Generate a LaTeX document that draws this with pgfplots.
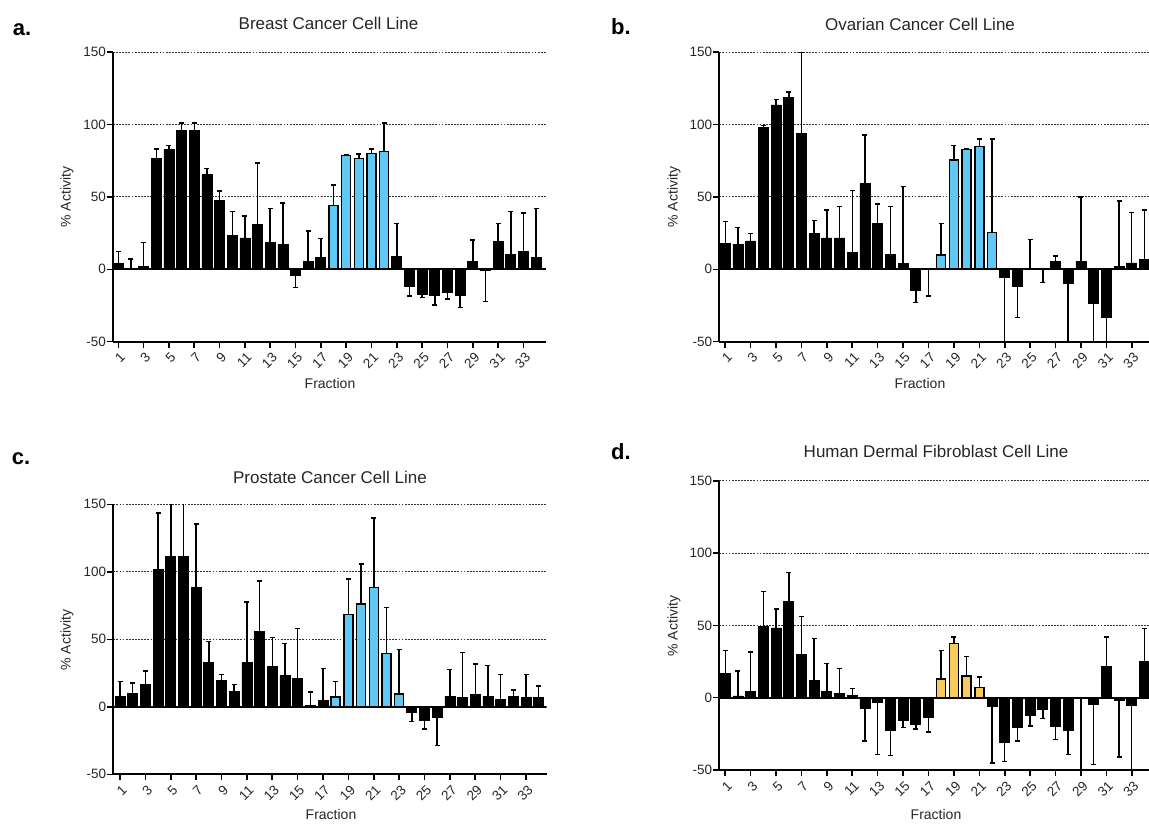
\documentclass[border=0pt]{standalone}
\usepackage{fontspec}
\setmainfont{Liberation Sans}
\usepackage{pgfplots}
\pgfplotsset{compat=1.18}
\definecolor{barblue}{RGB}{95,200,245}
\definecolor{baryel}{RGB}{247,202,92}
\definecolor{gridgray}{RGB}{50,50,50}
\pgfplotsset{
  panel/.style={
    scale only axis, anchor=south west,
    ymin=-50, ymax=150,
    ytick={-50,0,50,100,150},
    xtick={1,3,...,33},
    axis x line*=bottom, axis y line*=left,
    axis line style={line width=2pt, black},
    tick align=outside, major tick length=6pt,
    every tick/.style={line width=1.6pt, black},
    ymajorgrids,
    grid style={dash pattern=on 1.8pt off 1.3pt, line width=1pt, gridgray},
    /pgf/number format/assume math mode=true,
    yticklabel style={font=\fontsize{13.5}{13.5}\selectfont, inner sep=1pt, text=black!85},
    xticklabel style={font=\fontsize{13.5}{13.5}\selectfont, yshift=-4pt, xshift=1pt, rotate=45, anchor=north east, inner sep=0pt, text=black!85},
  },
  errstyle/.style={
    /pgfplots/error bars/y explicit,
    /pgfplots/error bars/y dir=#1,
    /pgfplots/error bars/error bar style={line width=1.5pt, black, solid},
    /pgfplots/error bars/error mark options={rotate=90, line width=1.5pt, black, mark size=2.5pt},
  },
  blackbar/.style={ybar, bar width=10pt, bar shift=0pt, fill=black, draw=black, line width=0.8pt, errstyle=#1},
  colbar/.style={ybar, bar width=9pt, bar shift=0pt, fill=#1, draw=black, line width=1.5pt, errstyle=plus},
}
\newcommand{\zeroline}{\draw[line width=2pt, black] ({rel axis cs:0,0} |- {axis cs:1,0}) -- ({rel axis cs:1,0} |- {axis cs:1,0});}
\begin{document}
\begin{tikzpicture}[x=1pt,y=1pt]
\useasboundingbox (0,0) rectangle (1149,823);
% ---------------- a ----------------
\begin{axis}[panel, at={(113pt,481.3pt)}, width=433pt, height=289.4pt, xmin=0.58, xmax=34.78]
\addplot[blackbar=plus] coordinates {
 (1,4.1) +- (0,8.3) (2,0.5) +- (0,6.6) (3,1.8) +- (0,16.9) (4,76.7) +- (0,6.3)
 (5,82.7) +- (0,3.0) (6,96.1) +- (0,4.9) (7,96.1) +- (0,4.9) (8,65.4) +- (0,4.2)
 (9,47.9) +- (0,6.2) (10,23.7) +- (0,16.2) (11,21.7) +- (0,15.2) (12,30.9) +- (0,42.6)
 (13,18.7) +- (0,23.2) (14,17.5) +- (0,28.4) (16,5.3) +- (0,21.2) (17,8.3) +- (0,13.1)
 (23,9.2) +- (0,22.6) (29,5.3) +- (0,15.0) (31,19.4) +- (0,12.4) (32,10.4) +- (0,29.5)
 (33,12.4) +- (0,26.5) (34,8.3) +- (0,33.6)};
\addplot[blackbar=minus] coordinates {
 (15,-4.4) +- (0,8.0) (24,-11.5) +- (0,6.9) (25,-17.5) +- (0,1.9) (26,-17.7) +- (0,7.0)
 (27,-15.7) +- (0,4.8) (28,-17.7) +- (0,8.8) (30,-0.9) +- (0,21.4)};
\addplot[colbar=barblue] coordinates {
 (18,44.0) +- (0,14.3) (19,78.6) +- (0,0.4) (20,76.7) +- (0,3.0) (21,80.2) +- (0,2.8) (22,81.6) +- (0,19.4)};
\zeroline
\end{axis}
% ---------------- b ----------------
\begin{axis}[panel, at={(719.3pt,481.3pt)}, width=429.7pt, height=289.4pt, xmin=0.53, xmax=34.36]
\addplot[blackbar=plus] coordinates {
 (1,17.7) +- (0,15.2) (2,17.3) +- (0,11.5) (3,19.6) +- (0,5.3) (4,98.2) +- (0,1.1)
 (5,113.6) +- (0,3.9) (6,118.7) +- (0,3.9) (7,94.0) +- (0,56.0) (8,24.7) +- (0,9.2)
 (9,21.7) +- (0,19.3) (10,21.7) +- (0,21.6) (11,11.5) +- (0,42.9) (12,59.4) +- (0,33.4)
 (13,31.8) +- (0,13.4) (14,10.4) +- (0,32.9) (15,4.1) +- (0,53.3) (25,0.9) +- (0,19.6)
 (27,5.3) +- (0,3.9) (29,5.3) +- (0,44.7) (32,1.8) +- (0,45.4) (33,4.4) +- (0,34.8)
 (34,7.1) +- (0,33.9)};
\addplot[blackbar=minus] coordinates {
 (16,-14.7) +- (0,8.1) (17,0) +- (0,18.4) (23,-5.3) +- (0,44.7) (24,-11.8) +- (0,21.6)
 (26,0) +- (0,9.2) (28,-9.7) +- (0,40.3) (30,-23.7) +- (0,26.3) (31,-32.9) +- (0,17.1)};
\addplot[colbar=barblue] coordinates {
 (18,9.9) +- (0,21.9) (19,75.6) +- (0,10.1) (20,82.7) +- (0,0.9) (21,84.8) +- (0,5.3) (22,25.6) +- (0,64.5)};
\zeroline
\end{axis}
% ---------------- c ----------------
\begin{axis}[panel, at={(113.3pt,48.7pt)}, width=433.4pt, height=270pt, xmin=0.47, xmax=34.63]
\addplot[blackbar=plus] coordinates {
 (1,7.9) +- (0,10.8) (2,9.9) +- (0,7.8) (3,16.5) +- (0,9.9) (4,101.7) +- (0,41.7)
 (5,111.6) +- (0,40.0) (6,111.6) +- (0,40.0) (7,88.7) +- (0,46.8) (8,33.0) +- (0,15.5)
 (9,19.7) +- (0,4.4) (10,11.3) +- (0,5.2) (11,33.0) +- (0,44.6) (12,55.9) +- (0,37.2)
 (13,29.6) +- (0,21.9) (14,23.2) +- (0,23.8) (15,20.7) +- (0,37.2) (16,1.0) +- (0,10.1)
 (17,4.7) +- (0,23.6) (27,7.9) +- (0,19.7) (28,6.9) +- (0,33.2) (29,8.9) +- (0,22.9)
 (30,7.9) +- (0,22.6) (31,5.7) +- (0,18.4) (32,7.9) +- (0,4.4) (33,6.9) +- (0,17.2)
 (34,6.9) +- (0,8.4)};
\addplot[blackbar=minus] coordinates {
 (24,-4.4) +- (0,6.4) (25,-9.9) +- (0,6.4) (26,-7.9) +- (0,20.7)};
\addplot[colbar=barblue] coordinates {
 (18,7.4) +- (0,11.3) (19,68.5) +- (0,26.3) (20,76.1) +- (0,29.8) (21,88.2) +- (0,51.5)
 (22,39.4) +- (0,34.0) (23,9.6) +- (0,33.0)};
\zeroline
\end{axis}
% ---------------- d ----------------
\begin{axis}[panel, at={(719.3pt,53pt)}, width=429.7pt, height=289.3pt, xmin=0.53, xmax=34.36]
\addplot[blackbar=plus] coordinates {
 (1,16.6) +- (0,16.1) (2,1.2) +- (0,17.2) (3,4.1) +- (0,27.5) (4,49.1) +- (0,24.4)
 (5,48.2) +- (0,13.1) (6,66.4) +- (0,20.2) (7,29.7) +- (0,26.5) (8,12.0) +- (0,28.8)
 (9,4.1) +- (0,19.4) (10,3.0) +- (0,17.3) (11,1.8) +- (0,4.4) (31,21.4) +- (0,20.5)
 (34,24.9) +- (0,23.0)};
\addplot[blackbar=minus] coordinates {
 (12,-7.4) +- (0,22.6) (13,-3.5) +- (0,35.7) (14,-22.8) +- (0,17.3) (15,-15.4) +- (0,5.3)
 (16,-18.4) +- (0,3.3) (17,-13.6) +- (0,10.1) (22,-6.2) +- (0,39.0) (23,-31.1) +- (0,13.1)
 (24,-20.7) +- (0,9.3) (25,-12.4) +- (0,7.2) (26,-8.3) +- (0,6.2) (27,-19.6) +- (0,9.2)
 (28,-22.8) +- (0,16.4) (29,0) +- (0,50) (30,-4.4) +- (0,41.7) (32,-2.1) +- (0,38.9)
 (33,-5.3) +- (0,44.7)};
\addplot[colbar=baryel] coordinates {
 (18,12.9) +- (0,19.8) (19,37.6) +- (0,4.3) (20,15.0) +- (0,13.6) (21,7.1) +- (0,7.2)};
\zeroline
\end{axis}
% ---------------- texts ----------------
\tikzset{ttl/.style={font=\fontsize{17}{17}\selectfont, text=black!85},
         lbl/.style={font=\fontsize{14}{14}\selectfont, text=black!85},
         pnl/.style={font=\fontsize{22}{22}\selectfont\bfseries}}
\node[pnl] at (22,793.5) {a.};
\node[pnl] at (621,796) {b.};
\node[pnl] at (21,364) {c.};
\node[pnl] at (621,371) {d.};
\node[ttl] at (328.5,799.5) {Breast Cancer Cell Line};
\node[ttl] at (920,799) {Ovarian Cancer Cell Line};
\node[ttl] at (330,346) {Prostate Cancer Cell Line};
\node[ttl] at (936,372) {Human Dermal Fibroblast Cell Line};
\node[lbl] at (330,440) {Fraction};
\node[lbl] at (920,440) {Fraction};
\node[lbl] at (331,9) {Fraction};
\node[lbl] at (936,9) {Fraction};
\node[lbl, rotate=90] at (67,626) {\% Activity};
\node[lbl, rotate=90] at (674,626) {\% Activity};
\node[lbl, rotate=90] at (67,183) {\% Activity};
\node[lbl, rotate=90] at (674,197) {\% Activity};
\end{tikzpicture}
\end{document}
